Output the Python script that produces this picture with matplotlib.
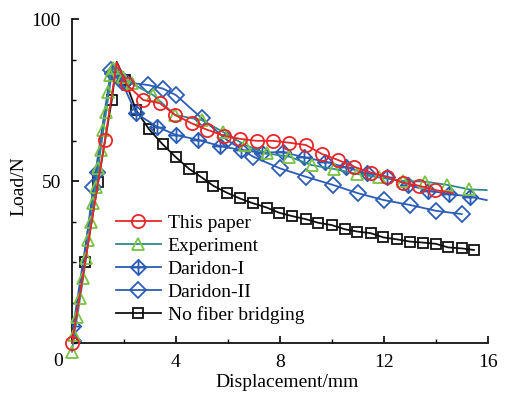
import matplotlib
matplotlib.use("Agg")
import matplotlib.pyplot as plt
from matplotlib.lines import Line2D
from matplotlib.path import Path
from matplotlib.ticker import MultipleLocator

plt.rcParams['font.family'] = ['Liberation Serif', 'DejaVu Serif']

# ---- data ----
paper_x = [0, 1.27, 1.72, 2.1, 2.74, 3.38, 3.96, 4.6, 5.2, 5.84, 6.47, 7.1, 7.72, 8.36, 9.0,
           9.62, 10.23, 10.85, 11.49, 12.1, 12.72, 13.36, 13.97, 14.65]
paper_y = [0, 62.7, 86.5, 79.8, 75.0, 74.0, 70.4, 67.8, 65.8, 64.0, 63.0, 62.4, 62.4, 61.8, 61.1,
           58.3, 56.5, 54.4, 52.6, 51.3, 49.5, 48.5, 47.2, 46.3]

exp_x = [0, 0.08, 0.2, 0.31, 0.43, 0.54, 0.63, 0.72, 0.82, 0.91, 1.01, 1.1, 1.2, 1.31, 1.4,
         1.46, 1.59, 1.95, 2.3, 3.13, 3.96, 4.99, 5.8, 6.65, 7.49, 8.36, 9.22, 10.08, 10.95,
         11.82, 12.72, 13.59, 14.44, 15.28, 15.95]
exp_y = [-2.7, 2.5, 8.1, 13.8, 20.0, 26.1, 31.8, 37.4, 43.1, 48.3, 53.9, 59.6, 65.7, 71.4, 77.6,
         82.7, 84.8, 82.0, 80.1, 76.5, 70.4, 68.8, 65.2, 61.1, 58.5, 57.5, 54.9, 53.7, 52.2,
         51.1, 50.0, 49.8, 48.8, 47.4, 47.2]

dar1_x = [0.05, 0.95, 1.53, 1.91, 2.46, 3.26, 4.0, 4.85, 5.69, 6.49, 7.3, 8.1, 8.92, 9.73,
          10.54, 11.33, 12.13, 12.94, 13.7, 14.51, 15.31, 15.95]
dar1_y = [5.2, 52.9, 83.2, 80.7, 70.9, 66.8, 64.2, 62.7, 60.8, 59.6, 58.7, 59.0, 57.3, 56.0,
          54.2, 52.4, 51.3, 48.8, 47.0, 46.0, 45.2, 44.1]

dar2_x = [0.05, 0.82, 1.5, 2.05, 2.94, 3.5, 4.0, 5.0, 5.95, 6.97, 8.0, 9.0, 10.03, 11.01,
          12.0, 13.0, 14.0, 14.99]
dar2_y = [0.5, 48.3, 84.3, 80.5, 79.6, 78.5, 76.5, 69.3, 62.7, 57.5, 53.9, 51.3, 48.8, 46.2,
          44.1, 42.6, 40.8, 39.8]

nofib_x = [0, 0.5, 1.01, 1.53, 1.72, 2.04, 2.46, 2.97, 3.49, 4.0, 4.51, 4.99, 5.44, 5.95, 6.46,
           6.97, 7.49, 7.97, 8.45, 9.0, 9.47, 9.99, 10.5, 10.97, 11.49, 11.97, 12.49, 13.0,
           13.49, 14.0, 14.47, 14.99, 15.46]
nofib_y = [0, 25.1, 49.8, 75.0, 86.8, 81.2, 71.9, 65.9, 61.3, 57.3, 53.7, 51.1, 48.5, 46.4, 44.6,
           43.1, 41.8, 40.2, 39.2, 38.2, 37.1, 36.4, 35.1, 34.4, 33.9, 32.6, 32.0, 31.3,
           31.0, 30.6, 29.5, 29.2, 28.7]

labels = ["This paper", "Experiment", "Daridon-I", "Daridon-II", "No fiber bridging"]
x_ticks = [0, 4, 8, 12, 16]
y_ticks = [50, 100]

RED = '#E8262A'
GREEN = '#7CC243'
TEAL = '#2E8A8A'
BLUE = '#2C5DB5'
BLACK = '#111111'

# diamond with a cross inside
diamond_cross = Path(
    [(0, 1), (1, 0), (0, -1), (-1, 0), (0, 1), (0, 1), (0, -1), (-1, 0), (1, 0)],
    [Path.MOVETO, Path.LINETO, Path.LINETO, Path.LINETO, Path.CLOSEPOLY,
     Path.MOVETO, Path.LINETO, Path.MOVETO, Path.LINETO])

fig = plt.figure(figsize=(5.10, 3.97), dpi=100)
ax = fig.add_axes([72/510, 1-343/397, 416/510, 324/397])

lw = 1.3
st_nf = dict(color=BLACK, lw=lw, marker='s', ms=7.5, mfc='none', mec=BLACK, mew=1.3)
st_d2 = dict(color=BLUE, lw=lw, marker='D', ms=8, mfc='none', mec=BLUE, mew=1.3)
st_d1 = dict(color=BLUE, lw=lw, marker=diamond_cross, ms=11, mfc='none', mec=BLUE, mew=1.3)
st_exp = dict(color=TEAL, lw=lw, marker='^', ms=9, mfc='none', mec=GREEN, mew=1.3)
st_pp = dict(color=RED, lw=lw, marker='o', ms=9.5, mfc='none', mec=RED, mew=1.3)

ax.plot(nofib_x, nofib_y, markevery=[i for i in range(len(nofib_x)) if i != 4], zorder=2, **st_nf)
ax.plot(dar2_x, dar2_y, zorder=3, **st_d2)
ax.plot(dar1_x, dar1_y, markevery=list(range(len(dar1_x) - 1)), zorder=4, **st_d1)
ax.plot(exp_x, exp_y, markevery=list(range(len(exp_x) - 1)), zorder=5, clip_on=False, **st_exp)
ax.plot(paper_x, paper_y, markevery=[i for i in range(len(paper_x) - 1) if i != 2],
        zorder=6, clip_on=False, **st_pp)

ax.set_xlim(0, 16)
ax.set_ylim(0, 100)
for s in ['top', 'right']:
    ax.spines[s].set_visible(False)
for s in ['left', 'bottom']:
    ax.spines[s].set_linewidth(1.3)
    ax.spines[s].set_color('#111111')

ax.set_xticks(x_ticks)
ax.set_xticklabels([''] + [str(t) for t in x_ticks[1:]])
ax.set_yticks(y_ticks)
ax.xaxis.set_minor_locator(MultipleLocator(2))
ax.yaxis.set_minor_locator(MultipleLocator(12.5))
ax.tick_params(which='major', direction='in', length=5, width=1.2, labelsize=14, pad=8)
ax.tick_params(which='minor', direction='in', length=3, width=1.0)
ax.text(-0.53, -0.058, "0", transform=ax.get_xaxis_transform(), fontsize=14,
        ha='center', va='center')

ax.set_xlabel("Displacement/mm", fontsize=14)
ax.xaxis.set_label_coords(0.517, -0.095)
ax.set_ylabel("Load/N", fontsize=14)
ax.yaxis.set_label_coords(-0.108, 0.485)

handles = [Line2D([], [], **st_pp), Line2D([], [], **st_exp), Line2D([], [], **st_d1),
           Line2D([], [], **st_d2), Line2D([], [], **st_nf)]
fig.legend(handles, labels, loc='upper left', bbox_to_anchor=(116/510, 1-214/397),
           frameon=False, fontsize=14, handlelength=2.3, handletextpad=0.35,
           labelspacing=0.28, borderpad=0, borderaxespad=0)

fig.savefig("out.png", dpi=100)
